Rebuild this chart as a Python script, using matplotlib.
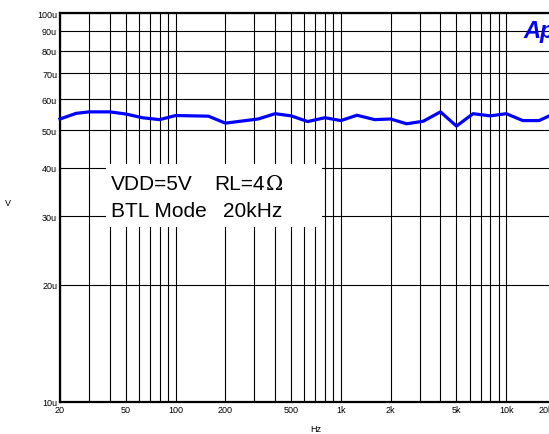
import matplotlib
matplotlib.use('Agg')
import matplotlib.pyplot as plt
from matplotlib.patches import Rectangle
from matplotlib.transforms import ScaledTranslation

plt.rcParams['font.family'] = ['Liberation Sans', 'DejaVu Sans']

# Output voltage vs frequency
freq_hz = [20, 25, 30, 40, 50, 63, 80, 100, 158, 200, 316, 400, 500, 630, 800,
           1000, 1250, 1600, 2000, 2500, 3150, 4000, 5000, 6300, 8000, 10000,
           12600, 15800, 20000]
vout_u = [53.4, 55.2, 55.7, 55.7, 55.0, 53.8, 53.2, 54.5, 54.3, 52.1, 53.4, 55.1,
          54.4, 52.6, 53.8, 52.9, 54.6, 53.2, 53.4, 51.9, 52.7, 55.7, 51.2, 55.1,
          54.4, 55.1, 52.9, 52.9, 55.4]

x_grid = [20, 30, 40, 50, 60, 70, 80, 90, 100, 200, 300, 400, 500, 600, 700, 800,
          900, 1000, 2000, 3000, 4000, 5000, 6000, 7000, 8000, 9000, 10000, 20000]
x_labels = {20: '20', 50: '50', 100: '100', 200: '200', 500: '500', 1000: '1k',
            2000: '2k', 5000: '5k', 10000: '10k', 20000: '20k'}
y_grid = [10, 20, 30, 40, 50, 60, 70, 80, 90, 100]
y_labels = ['10u', '20u', '30u', '40u', '50u', '60u', '70u', '80u', '90u', '100u']

W, H = 549, 435
fig = plt.figure(figsize=(W / 100, H / 100), dpi=100)
ax = fig.add_axes([60 / W, 32 / H, 496 / W, 389 / H])

ax.set_xscale('log')
ax.set_yscale('log')
ax.set_xlim(20, 20000)
ax.set_ylim(10, 100)

ax.set_xticks(x_grid)
ax.set_xticklabels([x_labels.get(f, '') for f in x_grid], fontsize=6.5)
ax.set_yticks(y_grid)
ax.set_yticklabels(y_labels, fontsize=6.5)
ax.minorticks_off()
ax.tick_params(axis='both', length=0, pad=2)
ax.grid(True, color='black', linewidth=0.8)

# last label sits at the clipped right edge
last = ax.get_xticklabels()[-1]
last.set_transform(last.get_transform() + ScaledTranslation(-0.1, 0, fig.dpi_scale_trans))

for side in ['left', 'top', 'bottom']:
    ax.spines[side].set_linewidth(1.6)
ax.spines['right'].set_visible(False)

ax.plot(freq_hz, vout_u, color='#0000ff', linewidth=2.3, zorder=5, clip_on=False)

ax.set_xlabel('Hz', fontsize=6.5)
ax.xaxis.set_label_coords((316 - 60) / 496, -22 / 389)
ax.set_ylabel('V', fontsize=6.5, rotation=0)
ax.yaxis.set_label_coords(-52 / 496, (403 - 208) / 389)

# Annotation box with test conditions
fig.patches.append(Rectangle((106 / W, 1 - 228 / H), 216 / W, 63 / H,
                             transform=fig.transFigure, facecolor='white',
                             edgecolor='none', zorder=10))
fs = 15
fig.text(111 / W, 1 - 190 / H, 'VDD=5V', fontsize=fs, zorder=11)
fig.text(214 / W, 1 - 190 / H, 'RL=4', fontsize=fs, zorder=11)
fig.text(266 / W, 1 - 190 / H, '\u03a9', fontsize=fs, family='DejaVu Serif',
         zorder=11)
fig.text(111 / W, 1 - 217 / H, 'BTL Mode', fontsize=fs, zorder=11)
fig.text(223 / W, 1 - 217 / H, '20kHz', fontsize=fs, zorder=11)

# Clipped vendor logo in the corner
fig.text(523 / W, 1 - 38 / H, 'Ap', fontsize=17, color='#0000ff',
         fontweight='bold', style='italic', zorder=11)

fig.savefig('out.png', dpi=100)
